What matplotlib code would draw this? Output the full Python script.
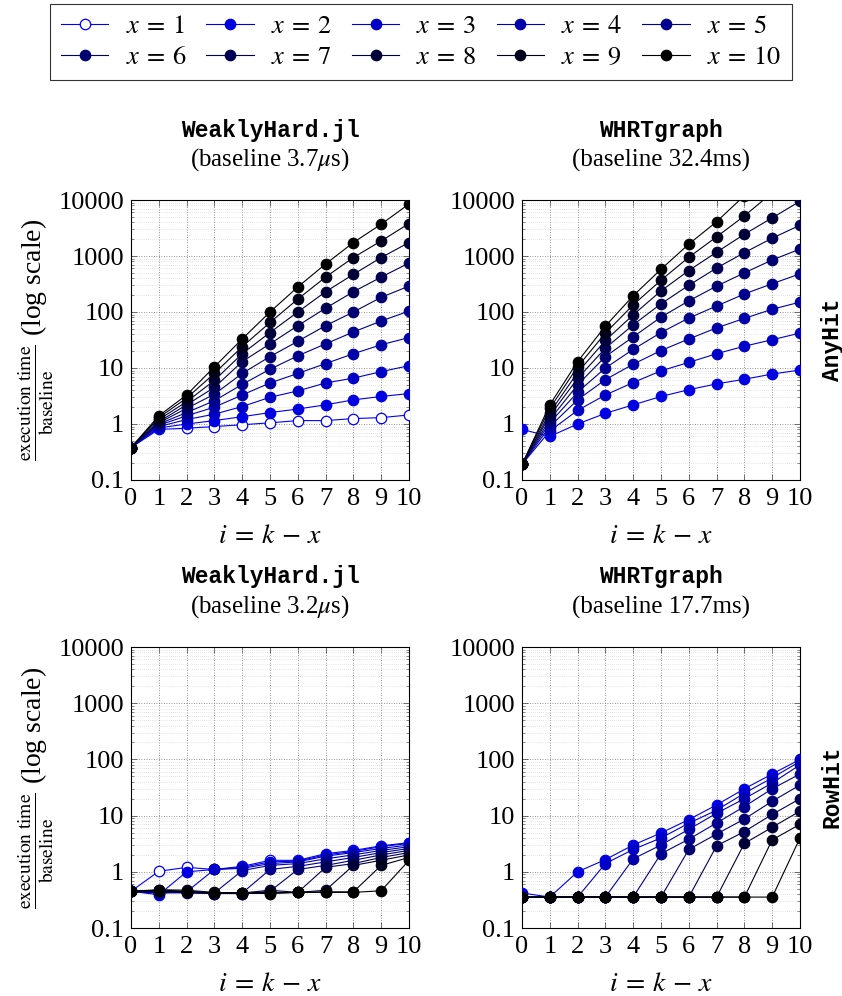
import numpy as np
import matplotlib
matplotlib.use('Agg')
import matplotlib.pyplot as plt
from matplotlib.lines import Line2D
from matplotlib.ticker import FixedLocator, FixedFormatter, LogLocator, NullFormatter

plt.rcParams['font.family'] = 'serif'
plt.rcParams['font.serif'] = ['Liberation Serif', 'DejaVu Serif']
plt.rcParams['mathtext.fontset'] = 'stix'

nan = np.nan
i_vals = list(range(11))
x_names = list(range(1, 11))

# WeaklyHard.jl, AnyHit
wh_any = {
    1: [0.38, 0.80, 0.84, 0.90, 0.97, 1.05, 1.15, 1.15, 1.25, 1.30, 1.45],
    2: [0.38, 0.85, 1.00, 1.15, 1.35, 1.60, 1.85, 2.2, 2.7, 3.1, 3.5],
    3: [0.38, 0.90, 1.20, 1.50, 2.05, 3.0, 3.9, 5.4, 6.6, 8.6, 11],
    4: [0.38, 0.95, 1.40, 2.0, 3.3, 5.4, 8.0, 12, 18, 26, 35],
    5: [0.38, 1.00, 1.60, 2.6, 5.1, 9.5, 16.5, 27, 44, 69, 104],
    6: [0.38, 1.05, 1.90, 3.4, 8.0, 16, 30, 57, 100, 183, 290],
    7: [0.38, 1.10, 2.20, 4.5, 13, 27, 57, 117, 230, 420, 750],
    8: [0.38, 1.20, 2.50, 6.0, 18, 43, 100, 230, 470, 940, 1740],
    9: [0.38, 1.30, 2.90, 8.0, 24, 65, 170, 420, 940, 1860, 3800],
    10: [0.38, 1.40, 3.30, 10.5, 33, 100, 280, 720, 1740, 3700, 8500],
}

# WHRTgraph, AnyHit (values above 10000 leave the plot)
wg_any = {
    2: [0.80, 0.60, 1.0, 1.55, 2.2, 3.1, 4.1, 5.2, 6.3, 7.8, 9.2],
    3: [0.19, 0.75, 1.75, 3.3, 5.5, 8.9, 12.6, 18, 24.5, 32, 42],
    4: [0.19, 0.90, 2.7, 6.2, 11.7, 20.5, 33, 52, 77, 112, 150],
    5: [0.19, 1.05, 3.7, 10, 21.5, 43, 78, 128, 210, 320, 480],
    6: [0.19, 1.20, 5.0, 16, 36, 81, 158, 290, 500, 850, 1330],
    7: [0.19, 1.40, 6.5, 22.6, 59, 140, 300, 610, 1150, 2080, 3550],
    8: [0.19, 1.60, 8.3, 31, 89, 238, 550, 1170, 2450, 4800, 9500],
    9: [0.19, 1.90, 10.5, 42, 134, 370, 950, 2200, 5200, 13500, nan],
    10: [0.19, 2.20, 13, 56, 195, 580, 1630, 4100, 12000, nan, nan],
}

# WeaklyHard.jl, RowHit
wh_row = {
    1: [0.45, 1.02, 1.20, 1.10, 1.25, 1.60, 1.60, 2.1, 2.4, 2.9, 3.3],
    2: [0.45, 0.39, 1.00, 1.10, 1.20, 1.50, 1.55, 2.0, 2.3, 2.8, 3.2],
    3: [0.45, 0.42, 0.44, 1.10, 1.15, 1.40, 1.50, 1.9, 2.2, 2.6, 3.0],
    4: [0.45, 0.42, 0.43, 0.42, 1.05, 1.30, 1.40, 1.7, 2.0, 2.4, 2.8],
    5: [0.45, 0.43, 0.42, 0.41, 0.42, 1.10, 1.25, 1.5, 1.8, 2.2, 2.6],
    6: [0.45, 0.45, 0.43, 0.41, 0.41, 0.45, 1.10, 1.3, 1.6, 2.0, 2.4],
    7: [0.45, 0.46, 0.44, 0.42, 0.41, 0.42, 0.43, 1.2, 1.4, 1.8, 2.2],
    8: [0.45, 0.47, 0.45, 0.42, 0.42, 0.47, 0.43, 0.47, 1.3, 1.6, 2.0],
    9: [0.45, 0.48, 0.47, 0.43, 0.42, 0.43, 0.43, 0.44, 0.44, 1.3, 1.8],
    10: [0.45, 0.46, 0.44, 0.42, 0.42, 0.41, 0.43, 0.43, 0.43, 0.46, 1.6],
}

# WHRTgraph, RowHit
wg_row = {
    2: [0.42, 0.355, 1.0, 1.65, 3.0, 4.9, 8.5, 15.5, 30, 55, 100],
    3: [0.355, 0.355, 0.355, 1.4, 2.5, 4.0, 7.3, 12.5, 25, 47, 92],
    4: [0.355, 0.355, 0.355, 0.355, 1.7, 3.0, 5.7, 11, 20, 38, 80],
    5: [0.355, 0.355, 0.355, 0.355, 0.355, 2.1, 3.8, 7.4, 14.5, 30, 55],
    6: [0.355, 0.355, 0.355, 0.355, 0.355, 0.355, 2.5, 4.7, 8.7, 18, 35],
    7: [0.355, 0.355, 0.355, 0.355, 0.355, 0.355, 0.355, 2.9, 5.2, 10.5, 20],
    8: [0.355, 0.355, 0.355, 0.355, 0.355, 0.355, 0.355, 0.355, 3.2, 6.2, 12],
    9: [0.355, 0.355, 0.355, 0.355, 0.355, 0.355, 0.355, 0.355, 0.355, 3.7, 7.0],
    10: [0.355, 0.355, 0.355, 0.355, 0.355, 0.355, 0.355, 0.355, 0.355, 0.355, 4.0],
}

panels = [
    (wh_any, 'WeaklyHard.jl', r'(baseline 3.7$\mu$s)'),
    (wg_any, 'WHRTgraph', '(baseline 32.4ms)'),
    (wh_row, 'WeaklyHard.jl', r'(baseline 3.2$\mu$s)'),
    (wg_row, 'WHRTgraph', '(baseline 17.7ms)'),
]

# colours from blue (x=1) to black (x=10)
colors = {}
for x in x_names:
    colors[x] = (0.0, 0.0, (10 - x) / 9.0)

W, H = 842, 996
fig = plt.figure(figsize=(W / 100, H / 100), dpi=100)

# axes positions in pixels: left, top, right, bottom
boxes = [(131, 200, 409, 480), (522, 200, 800, 480),
         (131, 647, 409, 928), (522, 647, 800, 928)]

ytick_vals = [0.1, 1, 10, 100, 1000, 10000]
ytick_lbl = ['0.1', '1', '10', '100', '1000', '10000']

for k, (data, name, base) in enumerate(panels):
    l, t, r, b = boxes[k]
    ax = fig.add_axes([l / W, 1 - b / H, (r - l) / W, (b - t) / H])
    for x in x_names:
        if x not in data:
            continue
        c = colors[x]
        face = 'white' if x == 1 else c
        ax.plot(i_vals, data[x], '-', color=c, lw=0.8, marker='o', ms=7.5,
                mfc=face, mec=c, mew=0.9, zorder=3)
    ax.set_yscale('log')
    ax.set_ylim(0.1, 10000)
    ax.set_xlim(0, 10)
    ax.xaxis.set_major_locator(FixedLocator(i_vals))
    ax.set_xticklabels([str(v) for v in i_vals])
    ax.yaxis.set_major_locator(FixedLocator(ytick_vals))
    ax.yaxis.set_major_formatter(FixedFormatter(ytick_lbl))
    ax.yaxis.set_minor_locator(LogLocator(base=10, subs=np.arange(2, 10), numticks=20))
    ax.yaxis.set_minor_formatter(NullFormatter())
    ax.tick_params(which='both', direction='in', top=True, right=True,
                   labelsize=19, color='0.35')
    ax.tick_params(which='major', length=4, width=0.6)
    ax.tick_params(which='minor', length=2.5, width=0.5)
    ax.tick_params(axis='x', pad=6)
    ax.tick_params(axis='y', pad=5)
    ax.grid(True, which='major', ls=(0, (1, 2)), color='0.45', lw=0.6)
    ax.grid(True, which='minor', ls=(0, (1, 2)), color='0.8', lw=0.5)
    ax.set_axisbelow(True)
    for s in ax.spines.values():
        s.set_linewidth(0.8)
    ax.set_xlabel(r'$i\:=\:k\,-\,x$', fontsize=20, labelpad=10)
    cx = (l + r) / 2 / W
    fig.text(cx, 1 - (t - 70) / H, name, family='Liberation Mono', weight='bold',
             fontsize=16.5, ha='center', va='center')
    fig.text(cx, 1 - (t - 40) / H, base, fontsize=18, ha='center', va='center')
    if k % 2 == 0:
        ax.set_ylabel(r'$\frac{\mathrm{execution\ time}}{\mathrm{baseline}}$ (log scale)',
                      fontsize=20, labelpad=2)

fig.text(832 / W, 1 - 340 / H, 'AnyHit', family='Liberation Mono', weight='bold',
         fontsize=16.5, rotation=90, ha='center', va='center')
fig.text(832 / W, 1 - 787 / H, 'RowHit', family='Liberation Mono', weight='bold',
         fontsize=16.5, rotation=90, ha='center', va='center')

# legend filled row by row (matplotlib fills by column)
order = [1, 6, 2, 7, 3, 8, 4, 9, 5, 10]
handles = []
labels = []
for x in order:
    c = colors[x]
    face = 'white' if x == 1 else c
    handles.append(Line2D([0], [0], color=c, lw=0.8, marker='o', ms=7.5, mfc=face, mec=c, mew=0.9))
    labels.append(r'$x\:=\:%d$' % x)
leg = fig.legend(handles, labels, loc='upper center', bbox_to_anchor=(0.5, 1 - 4 / H),
                 ncol=5, fontsize=19, frameon=True, fancybox=False, edgecolor='black',
                 handlelength=1.8, handletextpad=0.65, columnspacing=0.75,
                 labelspacing=0.3, borderpad=0.4, borderaxespad=0)
leg.get_frame().set_linewidth(0.8)

fig.savefig('out.png', dpi=100)
